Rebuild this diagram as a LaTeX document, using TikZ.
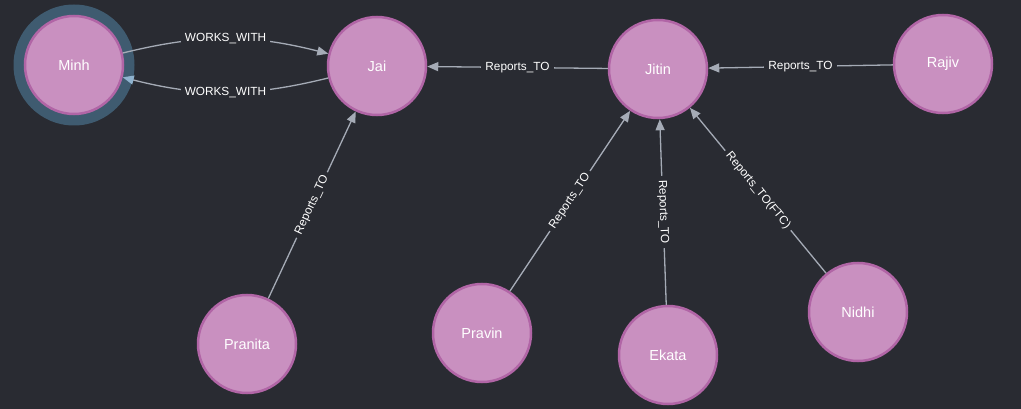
\documentclass[tikz,border=0pt]{standalone}
\usepackage{fontspec}
\setmainfont{Liberation Sans}
\usetikzlibrary{arrows.meta}

\definecolor{bgdark}{HTML}{292B32}
\definecolor{nodepink}{HTML}{C990C0}
\definecolor{rimpink}{HTML}{B165A6}
\definecolor{haloblue}{HTML}{3F5B70}
\definecolor{edgegrey}{HTML}{A5ABB6}
\definecolor{tipblue}{HTML}{8FB3CF}

\begin{document}
\begin{tikzpicture}[x=1pt,y=-1pt]
\tikzset{person/.style = {shape = circle, fill = nodepink, draw = rimpink, line width = 2.5pt,
    inner sep = 0pt, minimum size = 98pt, text = white, font = \fontsize{14.5}{17}\selectfont}}
\tikzset{link/.style = {edgegrey, line width = 1.3pt, -{Triangle[length=11pt,width=9pt]}}}
\tikzset{tag/.style = {fill = bgdark, text = white, inner sep = 4pt, font = \fontsize{11.8}{14}\selectfont}}

\useasboundingbox (0,0) rectangle (1021,409);
\fill[bgdark] (0,0) rectangle (1021,409);

% selected node
\fill[haloblue] (74,65) circle (60.5);

\node[person] (minh)    at (74,65)   {Minh};
\node[person] (jai)     at (377,66)  {Jai};
\node[person] (jitin)   at (658,69)  {Jitin};
\node[person] (rajiv)   at (943,64)  {Rajiv};
\node[person] (pranita) at (247,344) {Pranita};
\node[person] (pravin)  at (482,333) {Pravin};
\node[person] (ekata)   at (668,355) {Ekata};
\node[person] (nidhi)   at (858,312) {Nidhi};

\draw[link] (minh) to[bend left=14] node[tag] {WORKS\_WITH} (jai);
\draw[link, -{Triangle[length=11pt,width=9pt,color=tipblue]}] (jai) to[bend left=14] node[tag] {WORKS\_WITH} (minh);

\draw[link] (jitin) -- node[tag] {Reports\_TO} (jai);
\draw[link] (rajiv) -- node[tag] {Reports\_TO} (jitin);
\draw[link] (pranita) -- node[tag, sloped] {Reports\_TO} (jai);
\draw[link] (pravin) -- node[tag, sloped] {Reports\_TO} (jitin);
\draw[link] (ekata) -- node[tag, sloped] {Reports\_TO} (jitin);
\draw[link] (nidhi) -- node[tag, sloped] {Reports\_TO(FTC)} (jitin);

\end{tikzpicture}
\end{document}
